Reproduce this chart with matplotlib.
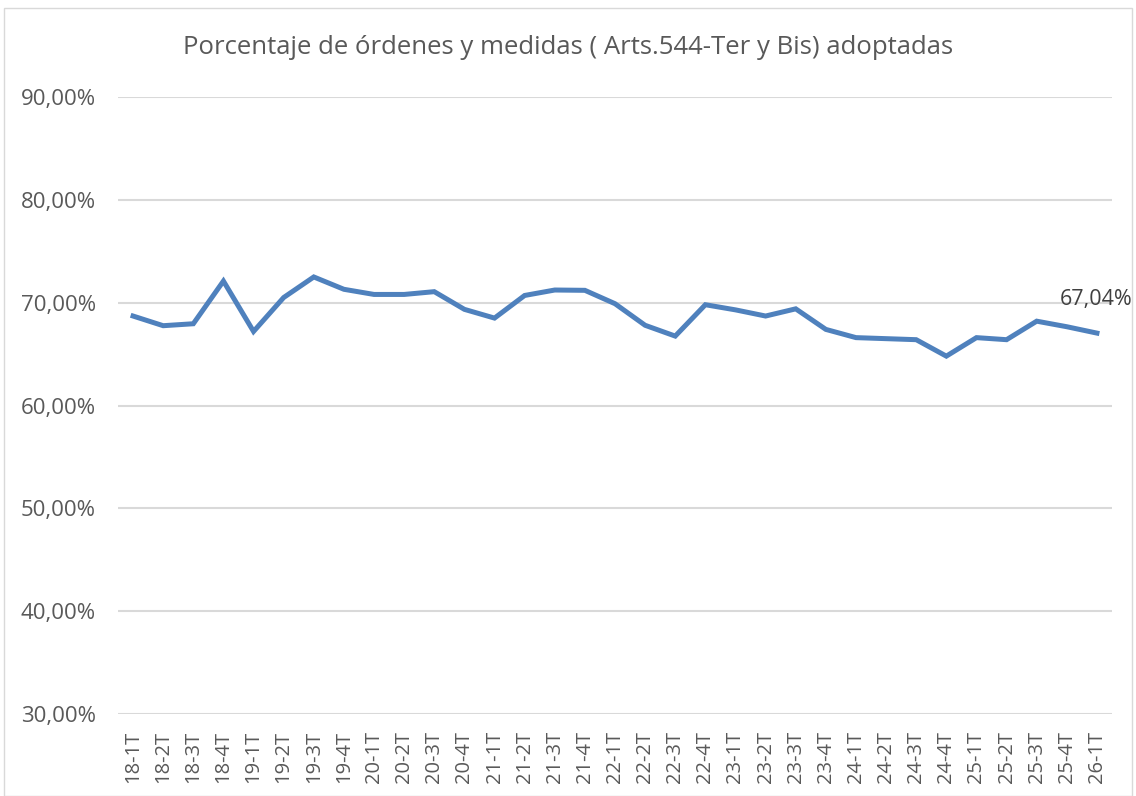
import matplotlib.pyplot as plt
from matplotlib.patches import Rectangle
from matplotlib.ticker import FuncFormatter

# Data
quarters = ["18-1T", "18-2T", "18-3T", "18-4T", "19-1T", "19-2T", "19-3T", "19-4T",
            "20-1T", "20-2T", "20-3T", "20-4T", "21-1T", "21-2T", "21-3T", "21-4T",
            "22-1T", "22-2T", "22-3T", "22-4T", "23-1T", "23-2T", "23-3T", "23-4T",
            "24-1T", "24-2T", "24-3T", "24-4T", "25-1T", "25-2T", "25-3T", "25-4T",
            "26-1T"]
pct = [68.7, 67.76, 67.95, 72.1, 67.2, 70.5, 72.5, 71.3,
       70.8, 70.8, 71.07, 69.35, 68.5, 70.7, 71.23, 71.2,
       69.9, 67.8, 66.75, 69.8, 69.3, 68.7, 69.4, 67.4,
       66.6, 66.5, 66.4, 64.8, 66.6, 66.4, 68.2, 67.66,
       67.04]
y_ticks = [30, 40, 50, 60, 70, 80, 90]

TEXT = "#595959"
plt.rcParams['font.family'] = ['Open Sans', 'DejaVu Sans']

fig = plt.figure(figsize=(11.36, 7.96), dpi=100)
ax = fig.add_axes([118 / 1136, 1 - 714 / 796, (1112 - 118) / 1136, (714 - 97) / 796])

# outer chart border
fig.patches.append(Rectangle((4 / 1136, 0), 1 - 8 / 1136, 1 - 8 / 796,
                             transform=fig.transFigure, fill=False,
                             edgecolor="#D9D9D9", linewidth=1))

x = list(range(len(quarters)))
ax.plot(x, pct, color="#4F81BD", linewidth=3.6, solid_joinstyle="miter", zorder=3)

ax.set_xlim(-0.5, len(quarters) - 0.5)
ax.set_ylim(30, 90)
ax.set_yticks(y_ticks)
ax.yaxis.set_major_formatter(FuncFormatter(lambda v, p: f"{v:.2f}%".replace(".", ",")))
ax.set_xticks(x)
ax.set_xticklabels(quarters, rotation=90)
ax.grid(axis="y", color="#D9D9D9", linewidth=1.5)
ax.set_axisbelow(True)
for s in ax.spines.values():
    s.set_visible(False)
ax.tick_params(axis="both", length=0, colors=TEXT)
ax.tick_params(axis="y", pad=16, labelsize=16)
ax.tick_params(axis="x", pad=12, labelsize=14.5)

# last value label
ax.annotate("67,04%", (x[-1], pct[-1]), xytext=(-27, 24), textcoords="offset points",
            fontsize=15.5, color="#404040", ha="left", va="center")

fig.text(0.5, 1 - 47 / 796, "Porcentaje de órdenes y medidas ( Arts.544-Ter y Bis) adoptadas",
         ha="center", va="center", fontsize=18.5, color=TEXT)

fig.savefig("out.png", dpi=100)
